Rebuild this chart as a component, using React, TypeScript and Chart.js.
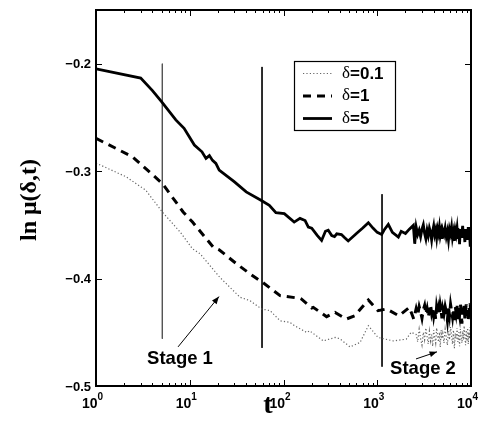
import React, { useEffect, useRef } from "react";
import { Chart, registerables } from "chart.js";

Chart.register(...registerables);

// common time grid for the noisy late-time tail
const T_TAIL = [2600, 2700, 2800, 2900, 3000, 3100, 3200, 3300, 3400, 3500, 3600, 3700, 3800, 3900, 4000, 4100, 4200, 4300, 4400, 4500, 4600, 4700, 4800, 4900, 5000,
  5150, 5300, 5450, 5600, 5750, 5900, 6050, 6200, 6350, 6500, 6650, 6800, 6950, 7100, 7250, 7400, 7550, 7700, 7850, 8000, 8150, 8300, 8450, 8600, 8750, 8900, 9050, 9200, 9350, 9500, 9650, 9800, 9950, 10000];

// δ = 5 (solid)
const T5 = [1, 3, 4, 5, 7.1, 8.7, 11.2, 13.5, 14.9, 16.2, 17.5, 19, 20.6, 30, 40, 57.5, 70.6, 83, 102, 130, 150, 170, 184, 200, 230, 255, 280, 300, 327, 350, 370, 415, 450, 490, 600, 700, 804, 900, 1000, 1115, 1200, 1312, 1450, 1680, 1800, 2000, 2200, 2426, 2510];
const Y5 = [-0.2047, -0.2134, -0.225, -0.2352, -0.2523, -0.2601, -0.2757, -0.282, -0.2881, -0.2855, -0.29, -0.2928, -0.299, -0.31, -0.3193, -0.3271, -0.3318, -0.3386, -0.3396, -0.3474, -0.344, -0.346, -0.352, -0.353, -0.36, -0.3645, -0.356, -0.355, -0.36, -0.361, -0.3583, -0.359, -0.362, -0.365, -0.358, -0.353, -0.348, -0.353, -0.357, -0.359, -0.354, -0.3495, -0.357, -0.3614, -0.356, -0.358, -0.354, -0.3505, -0.3676];
const Y5_TAIL = [-0.352, -0.359, -0.355, -0.361, -0.354, -0.35, -0.358, -0.363, -0.355, -0.36, -0.353, -0.357, -0.364, -0.356, -0.351, -0.359, -0.355, -0.362, -0.354, -0.358, -0.352, -0.36, -0.356, -0.363, -0.355,
  -0.359, -0.353, -0.361, -0.356, -0.364, -0.354, -0.358, -0.352, -0.362, -0.357, -0.365, -0.355, -0.359, -0.353, -0.363, -0.356, -0.368, -0.354, -0.361, -0.357, -0.351, -0.362, -0.356, -0.366, -0.354, -0.36, -0.355, -0.364, -0.352, -0.361, -0.357, -0.369, -0.355, -0.36];

// δ = 1 (dashed)
const T1 = [1, 2.45, 5.1, 8.5, 10.7, 17.8, 20.6, 31.6, 44, 56, 58.5, 92, 150, 155, 200, 208, 288, 355, 468, 575, 804, 1020, 1260, 1700, 2200, 2450];
const Y1 = [-0.2695, -0.2866, -0.3115, -0.338, -0.3474, -0.3707, -0.3732, -0.3863, -0.3956, -0.4019, -0.4028, -0.4159, -0.4184, -0.419, -0.4274, -0.4268, -0.4355, -0.4315, -0.4377, -0.4346, -0.42, -0.4299, -0.4283, -0.4346, -0.4268, -0.4377];
const Y1_TAIL = [-0.428, -0.434, -0.426, -0.431, -0.437, -0.429, -0.425, -0.433, -0.428, -0.436, -0.43, -0.424, -0.432, -0.427, -0.435, -0.429, -0.438, -0.426, -0.431, -0.427, -0.434, -0.425, -0.43, -0.437, -0.428,
  -0.433, -0.426, -0.431, -0.439, -0.427, -0.434, -0.424, -0.43, -0.436, -0.428, -0.441, -0.426, -0.432, -0.425, -0.438, -0.429, -0.434, -0.423, -0.431, -0.442, -0.427, -0.433, -0.425, -0.437, -0.429, -0.424, -0.435, -0.428, -0.44, -0.426, -0.432, -0.423, -0.436, -0.424];

// δ = 0.1 (dotted)
const T01 = [1, 2.1, 3.4, 5.1, 7.9, 10.7, 12.9, 20.9, 34.4, 44, 58.5, 72, 92, 117, 132, 177, 190, 266, 355, 398, 513, 655, 804, 1020, 1480, 2040, 2300];
const Y01 = [-0.2925, -0.3053, -0.3178, -0.338, -0.3567, -0.3723, -0.3769, -0.3988, -0.4174, -0.4206, -0.4283, -0.4299, -0.4393, -0.4408, -0.444, -0.4502, -0.4486, -0.458, -0.4548, -0.456, -0.4636, -0.4595, -0.4439, -0.4548, -0.458, -0.4564, -0.45];
const Y01_TAIL = [-0.452, -0.459, -0.447, -0.456, -0.462, -0.45, -0.457, -0.446, -0.454, -0.461, -0.449, -0.458, -0.452, -0.463, -0.448, -0.455, -0.46, -0.446, -0.453, -0.459, -0.45, -0.464, -0.448, -0.456, -0.451,
  -0.46, -0.447, -0.455, -0.462, -0.449, -0.457, -0.445, -0.453, -0.461, -0.448, -0.465, -0.451, -0.456, -0.446, -0.459, -0.45, -0.463, -0.447, -0.455, -0.46, -0.449, -0.457, -0.444, -0.454, -0.462, -0.448, -0.458, -0.446, -0.461, -0.45, -0.456, -0.445, -0.459, -0.449];

// stage separators
const STAGE_T = [5.1, 59, 1125];
const STAGE_TOP = [-0.2, -0.203, -0.3215];
const STAGE_BOTTOM = [-0.456, -0.4645, -0.482];
const STAGE_COLORS = ["#555", "#111", "#111"];

// annotations
const STAGE_LABELS = ["Stage 1", "Stage 2"];
const STAGE_LABEL_T = [7.87, 3076];
const STAGE_LABEL_Y = [-0.4794, -0.4888];
const ARROW_FROM_T = [7.5, 2590];
const ARROW_FROM_Y = [-0.4636, -0.4748];
const ARROW_TO_T = [20.5, 4340];
const ARROW_TO_Y = [-0.4168, -0.4682];

// axes
const X_TICKS = [1, 10, 100, 1000, 10000];
const X_TICK_EXP = ["0", "1", "2", "3", "4"];
const Y_TICKS = [-0.5, -0.4, -0.3, -0.2];
const Y_TICK_LABELS = ["\u22120.5", "\u22120.4", "\u22120.3", "\u22120.2"];
const LEGEND_LABELS = ["0.1", "1", "5"];

const zip = (t: number[], y: number[]) => t.map((v, i) => ({ x: v, y: y[i] }));

const SANS = '"Liberation Sans", Arial, sans-serif';
const SERIF = '"Liberation Serif", "Times New Roman", serif';

const overlay = {
  id: "overlay",
  afterDatasetsDraw(chart: any) {
    const { ctx, chartArea, scales } = chart;
    const { left, right, top, bottom } = chartArea;
    const x = scales.x;
    const y = scales.y;
    ctx.save();

    // frame
    ctx.strokeStyle = "#000";
    ctx.lineWidth = 2;
    ctx.strokeRect(left, top, right - left, bottom - top);

    // x tick marks (major + minor), bottom and top
    ctx.lineWidth = 1;
    for (let d = 0; d < 4; d++) {
      for (let m = 1; m <= 9; m++) {
        const v = m * Math.pow(10, d);
        const px = Math.round(x.getPixelForValue(v)) + 0.5;
        const len = m === 1 ? 6 : 3;
        ctx.beginPath();
        ctx.moveTo(px, bottom);
        ctx.lineTo(px, bottom - len);
        ctx.moveTo(px, top);
        ctx.lineTo(px, top + len);
        ctx.stroke();
      }
    }
    // y tick marks
    for (const v of Y_TICKS) {
      const py = Math.round(y.getPixelForValue(v)) + 0.5;
      ctx.beginPath();
      ctx.moveTo(left, py);
      ctx.lineTo(left + 6, py);
      ctx.moveTo(right, py);
      ctx.lineTo(right - 6, py);
      ctx.stroke();
    }

    // y tick labels
    ctx.fillStyle = "#000";
    ctx.font = `bold 13px ${SANS}`;
    ctx.textAlign = "right";
    ctx.textBaseline = "middle";
    Y_TICKS.forEach((v, i) => {
      ctx.fillText(Y_TICK_LABELS[i], left - 5, y.getPixelForValue(v) + 1);
    });

    // x tick labels: 10^n
    X_TICKS.forEach((v, i) => {
      const px = x.getPixelForValue(v);
      ctx.font = `bold 14px ${SANS}`;
      ctx.textAlign = "right";
      ctx.textBaseline = "alphabetic";
      ctx.fillText("10", px + 1.5, bottom + 22);
      ctx.font = `bold 10px ${SANS}`;
      ctx.textAlign = "left";
      ctx.fillText(X_TICK_EXP[i], px + 1.5, bottom + 14);
    });

    // axis titles
    ctx.font = `bold 28px ${SERIF}`;
    ctx.textAlign = "center";
    ctx.textBaseline = "alphabetic";
    ctx.fillText("t", 268, 413);

    ctx.save();
    ctx.translate(36, 200);
    ctx.rotate(-Math.PI / 2);
    ctx.font = `bold 24px ${SERIF}`;
    ctx.textAlign = "center";
    ctx.textBaseline = "alphabetic";
    ctx.fillText("ln \u03bc(\u03b4,t)", 0, 0);
    ctx.restore();

    // stage labels
    ctx.font = `bold 18.5px ${SANS}`;
    ctx.textAlign = "center";
    STAGE_LABELS.forEach((s, i) => {
      ctx.fillText(s, x.getPixelForValue(STAGE_LABEL_T[i]), y.getPixelForValue(STAGE_LABEL_Y[i]));
    });

    // arrows
    ctx.lineWidth = 1;
    ARROW_FROM_T.forEach((_, i) => {
      const x0 = x.getPixelForValue(ARROW_FROM_T[i]);
      const y0 = y.getPixelForValue(ARROW_FROM_Y[i]);
      const x1 = x.getPixelForValue(ARROW_TO_T[i]);
      const y1 = y.getPixelForValue(ARROW_TO_Y[i]);
      const a = Math.atan2(y1 - y0, x1 - x0);
      ctx.beginPath();
      ctx.moveTo(x0, y0);
      ctx.lineTo(x1, y1);
      ctx.stroke();
      const hl = 8;
      const hw = 0.38;
      ctx.beginPath();
      ctx.moveTo(x1, y1);
      ctx.lineTo(x1 - hl * Math.cos(a - hw), y1 - hl * Math.sin(a - hw));
      ctx.lineTo(x1 - hl * Math.cos(a + hw), y1 - hl * Math.sin(a + hw));
      ctx.closePath();
      ctx.fill();
    });

    // legend
    const lx = 294.5, ly = 61.5, lw = 101, lh = 69;
    ctx.fillStyle = "#fff";
    ctx.fillRect(lx, ly, lw, lh);
    ctx.strokeStyle = "#000";
    ctx.lineWidth = 1.2;
    ctx.strokeRect(lx, ly, lw, lh);
    const rows = [73.5, 96, 118.5];
    const dsets = chart.data.datasets;
    [0, 1, 2].forEach((k) => {
      const ds = dsets[k];
      const ry = rows[k];
      ctx.save();
      ctx.strokeStyle = ds.borderColor;
      ctx.lineWidth = ds.borderWidth;
      ctx.setLineDash(ds.borderDash || []);
      ctx.beginPath();
      ctx.moveTo(303, ry);
      ctx.lineTo(332, ry);
      ctx.stroke();
      ctx.restore();
      ctx.fillStyle = "#000";
      ctx.textAlign = "left";
      ctx.textBaseline = "middle";
      ctx.font = `17px ${SERIF}`;
      ctx.fillText("\u03b4", 342, ry);
      const dw = ctx.measureText("\u03b4").width;
      ctx.font = `bold 17px ${SANS}`;
      ctx.fillText("=" + LEGEND_LABELS[k], 342 + dw, ry + 0.5);
    });

    ctx.restore();
  },
};

export default function App() {
  const ref = useRef<HTMLCanvasElement | null>(null);

  useEffect(() => {
    document.body.style.margin = "0";
    const canvas = ref.current;
    if (!canvas) return;
    const stageSets = STAGE_T.map((t, i) => ({
      label: "stage" + i,
      data: [
        { x: t, y: STAGE_TOP[i] },
        { x: t, y: STAGE_BOTTOM[i] },
      ],
      borderColor: STAGE_COLORS[i],
      borderWidth: 1,
      pointRadius: 0,
      showLine: true,
    }));
    const chart = new Chart(canvas, {
      type: "scatter",
      data: {
        datasets: [
          {
            label: "δ=0.1",
            data: zip(T01.concat(T_TAIL), Y01.concat(Y01_TAIL)),
            borderColor: "#666",
            borderWidth: 1.2,
            borderDash: [1.2, 2.2],
            pointRadius: 0,
            showLine: true,
            tension: 0,
          },
          {
            label: "δ=1",
            data: zip(T1.concat(T_TAIL), Y1.concat(Y1_TAIL)),
            borderColor: "#000",
            borderWidth: 3,
            borderDash: [8, 6],
            pointRadius: 0,
            showLine: true,
            tension: 0,
          },
          {
            label: "δ=5",
            data: zip(T5.concat(T_TAIL), Y5.concat(Y5_TAIL)),
            borderColor: "#000",
            borderWidth: 2.8,
            pointRadius: 0,
            showLine: true,
            tension: 0,
          },
          ...stageSets,
        ] as any,
      },
      options: {
        animation: false,
        responsive: false,
        devicePixelRatio: 1,
        layout: { padding: { left: 0, right: 16, top: 10, bottom: 0 } },
        plugins: { legend: { display: false }, tooltip: { enabled: false } },
        scales: {
          x: {
            type: "logarithmic",
            min: 1,
            max: 10000,
            grid: { display: false },
            border: { display: false },
            ticks: { display: false },
            afterFit: (s: any) => {
              s.height = 36;
            },
          },
          y: {
            type: "linear",
            min: -0.5,
            max: -0.15,
            grid: { display: false },
            border: { display: false },
            ticks: { display: false },
            afterFit: (s: any) => {
              s.width = 96;
            },
          },
        },
      },
      plugins: [overlay],
    });
    return () => chart.destroy();
  }, []);

  return (
    <div style={{ position: "absolute", left: 0, top: 0, width: 487, height: 422, background: "#fff" }}>
      <canvas ref={ref} width={487} height={422} />
    </div>
  );
}
